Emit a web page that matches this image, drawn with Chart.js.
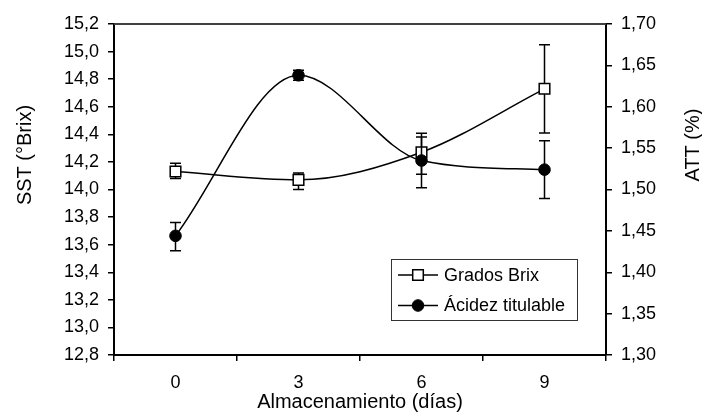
<!DOCTYPE html>
<html><head><meta charset="utf-8">
<script src="https://cdn.jsdelivr.net/npm/chart.js@4/dist/chart.umd.min.js"></script>
<style>html,body{margin:0;padding:0;background:#fff;overflow:hidden;}</style>
</head><body>
<canvas id="c" width="702" height="415"></canvas>
<script>
const categories = ['0', '3', '6', '9'];
const brixLabel = 'Grados Brix';
const brixValues = [14.13, 14.07, 14.27, 14.73];
const brixErrLow = [14.08, 14.00, 14.11, 14.41];
const brixErrHigh = [14.19, 14.12, 14.38, 15.05];
const acidLabel = 'Ácidez titulable';
const acidValues = [1.444, 1.638, 1.535, 1.524];
const acidErrLow = [1.426, 1.632, 1.502, 1.489];
const acidErrHigh = [1.460, 1.644, 1.568, 1.559];
const leftAxis = {min: 12.8, max: 15.2, step: 0.2, title: 'SST (°Brix)'};
const rightAxis = {min: 1.30, max: 1.70, step: 0.05, title: 'ATT (%)'};
const xTitle = 'Almacenamiento (días)';

const FONT = "'Liberation Sans', Arial, Helvetica, sans-serif";

const errorBarsPlugin = {
  id: 'errorBars',
  beforeDatasetDraw(chart, args) {
    const ds = chart.data.datasets[args.index];
    if (!ds.errLow) return;
    const meta = args.meta;
    const yScale = chart.scales[ds.yAxisID];
    const ctx = chart.ctx;
    ctx.save();
    ctx.strokeStyle = '#000';
    ctx.lineWidth = 1.5;
    meta.data.forEach((pt, i) => {
      const x = pt.x;
      const yl = yScale.getPixelForValue(ds.errLow[i]);
      const yh = yScale.getPixelForValue(ds.errHigh[i]);
      ctx.beginPath();
      ctx.moveTo(x, yl); ctx.lineTo(x, yh);
      ctx.moveTo(x - 5.5, yl); ctx.lineTo(x + 5.5, yl);
      ctx.moveTo(x - 5.5, yh); ctx.lineTo(x + 5.5, yh);
      ctx.stroke();
    });
    ctx.restore();
  }
};

const framePlugin = {
  id: 'frame',
  afterDraw(chart) {
    const {ctx, chartArea: a} = chart;
    ctx.save();
    ctx.strokeStyle = '#404040';
    ctx.lineWidth = 2;
    ctx.beginPath();
    ctx.moveTo(a.left, a.top); ctx.lineTo(a.right, a.top);
    ctx.stroke();
    ctx.fillStyle = '#000';
    ctx.font = '20px ' + FONT;
    ctx.textAlign = 'center';
    ctx.textBaseline = 'middle';
    ctx.save();
    ctx.translate(25, 155);
    ctx.rotate(-Math.PI / 2);
    ctx.fillText(leftAxis.title, 0, 0);
    ctx.restore();
    ctx.save();
    ctx.translate(693, 145);
    ctx.rotate(-Math.PI / 2);
    ctx.fillText(rightAxis.title, 0, 0);
    ctx.restore();
    const bx = 391, by = 259, bw = 186, bh = 61;
    ctx.strokeStyle = '#333';
    ctx.lineWidth = 1;
    ctx.strokeRect(bx + 0.5, by + 0.5, bw, bh);
    ctx.font = '18px ' + FONT;
    ctx.textAlign = 'left';
    const rows = [275, 305.5];
    chart.data.datasets.forEach((ds, i) => {
      const y = rows[i];
      ctx.strokeStyle = '#000';
      ctx.lineWidth = 1.5;
      ctx.beginPath();
      ctx.moveTo(398, y); ctx.lineTo(438, y);
      ctx.stroke();
      ctx.fillStyle = ds.pointBackgroundColor;
      ctx.strokeStyle = ds.pointBorderColor;
      ctx.lineWidth = ds.pointBorderWidth;
      Chart.helpers.drawPoint(ctx, {pointStyle: ds.pointStyle, radius: ds.pointRadius, borderWidth: ds.pointBorderWidth, rotation: 0}, 418, y);
      ctx.fillStyle = '#000';
      ctx.fillText(ds.label, 444, y + 1);
    });
    ctx.restore();
  }
};

new Chart(document.getElementById('c'), {
  type: 'line',
  data: {
    labels: categories,
    datasets: [
      {
        label: brixLabel, data: brixValues, errLow: brixErrLow, errHigh: brixErrHigh,
        yAxisID: 'yL', order: 1,
        borderColor: '#000', borderWidth: 1.5, cubicInterpolationMode: 'monotone',
        pointStyle: 'rect', pointRadius: 7.5, pointBackgroundColor: '#fff',
        pointBorderColor: '#000', pointBorderWidth: 1.5
      },
      {
        label: acidLabel, data: acidValues, errLow: acidErrLow, errHigh: acidErrHigh,
        yAxisID: 'yR', order: 0,
        borderColor: '#000', borderWidth: 1.5, cubicInterpolationMode: 'monotone',
        pointStyle: 'circle', pointRadius: 5.8, pointBackgroundColor: '#000',
        pointBorderColor: '#000', pointBorderWidth: 1
      }
    ]
  },
  options: {
    responsive: false,
    animation: false,
    devicePixelRatio: 1,
    layout: {padding: {top: 24, left: 0, right: 0, bottom: 0}},
    plugins: {legend: {display: false}, tooltip: {enabled: false}},
    scales: {
      x: {
        type: 'category', offset: true,
        grid: {offset: true, drawOnChartArea: false, drawTicks: true, tickLength: 6, color: '#000', lineWidth: 1.5},
        border: {display: true, color: '#000', width: 2},
        ticks: {color: '#000', font: {family: FONT, size: 18}, padding: 11, maxRotation: 0},
        title: {display: true, text: xTitle, color: '#000', font: {family: FONT, size: 20}, padding: {top: 0, bottom: 1}},
        afterFit(s) { s.height = 60; }
      },
      yL: {
        type: 'linear', position: 'left', min: leftAxis.min, max: leftAxis.max,
        grid: {drawOnChartArea: false, drawTicks: true, tickLength: 6, color: '#000', lineWidth: 1.5},
        border: {display: true, color: '#000', width: 2},
        ticks: {stepSize: leftAxis.step, color: '#000', font: {family: FONT, size: 18}, padding: 9,
          callback: v => Number(v).toFixed(1).replace('.', ',')},
        afterFit(s) { s.width = 114; }
      },
      yR: {
        type: 'linear', position: 'right', min: rightAxis.min, max: rightAxis.max,
        grid: {drawOnChartArea: false, drawTicks: true, tickLength: 6, color: '#000', lineWidth: 1.5},
        border: {display: true, color: '#000', width: 2},
        ticks: {stepSize: rightAxis.step, color: '#000', font: {family: FONT, size: 18}, padding: 9,
          callback: v => Number(v).toFixed(2).replace('.', ',')},
        afterFit(s) { s.width = 96; }
      }
    }
  },
  plugins: [errorBarsPlugin, framePlugin]
});
</script>
</body></html>
